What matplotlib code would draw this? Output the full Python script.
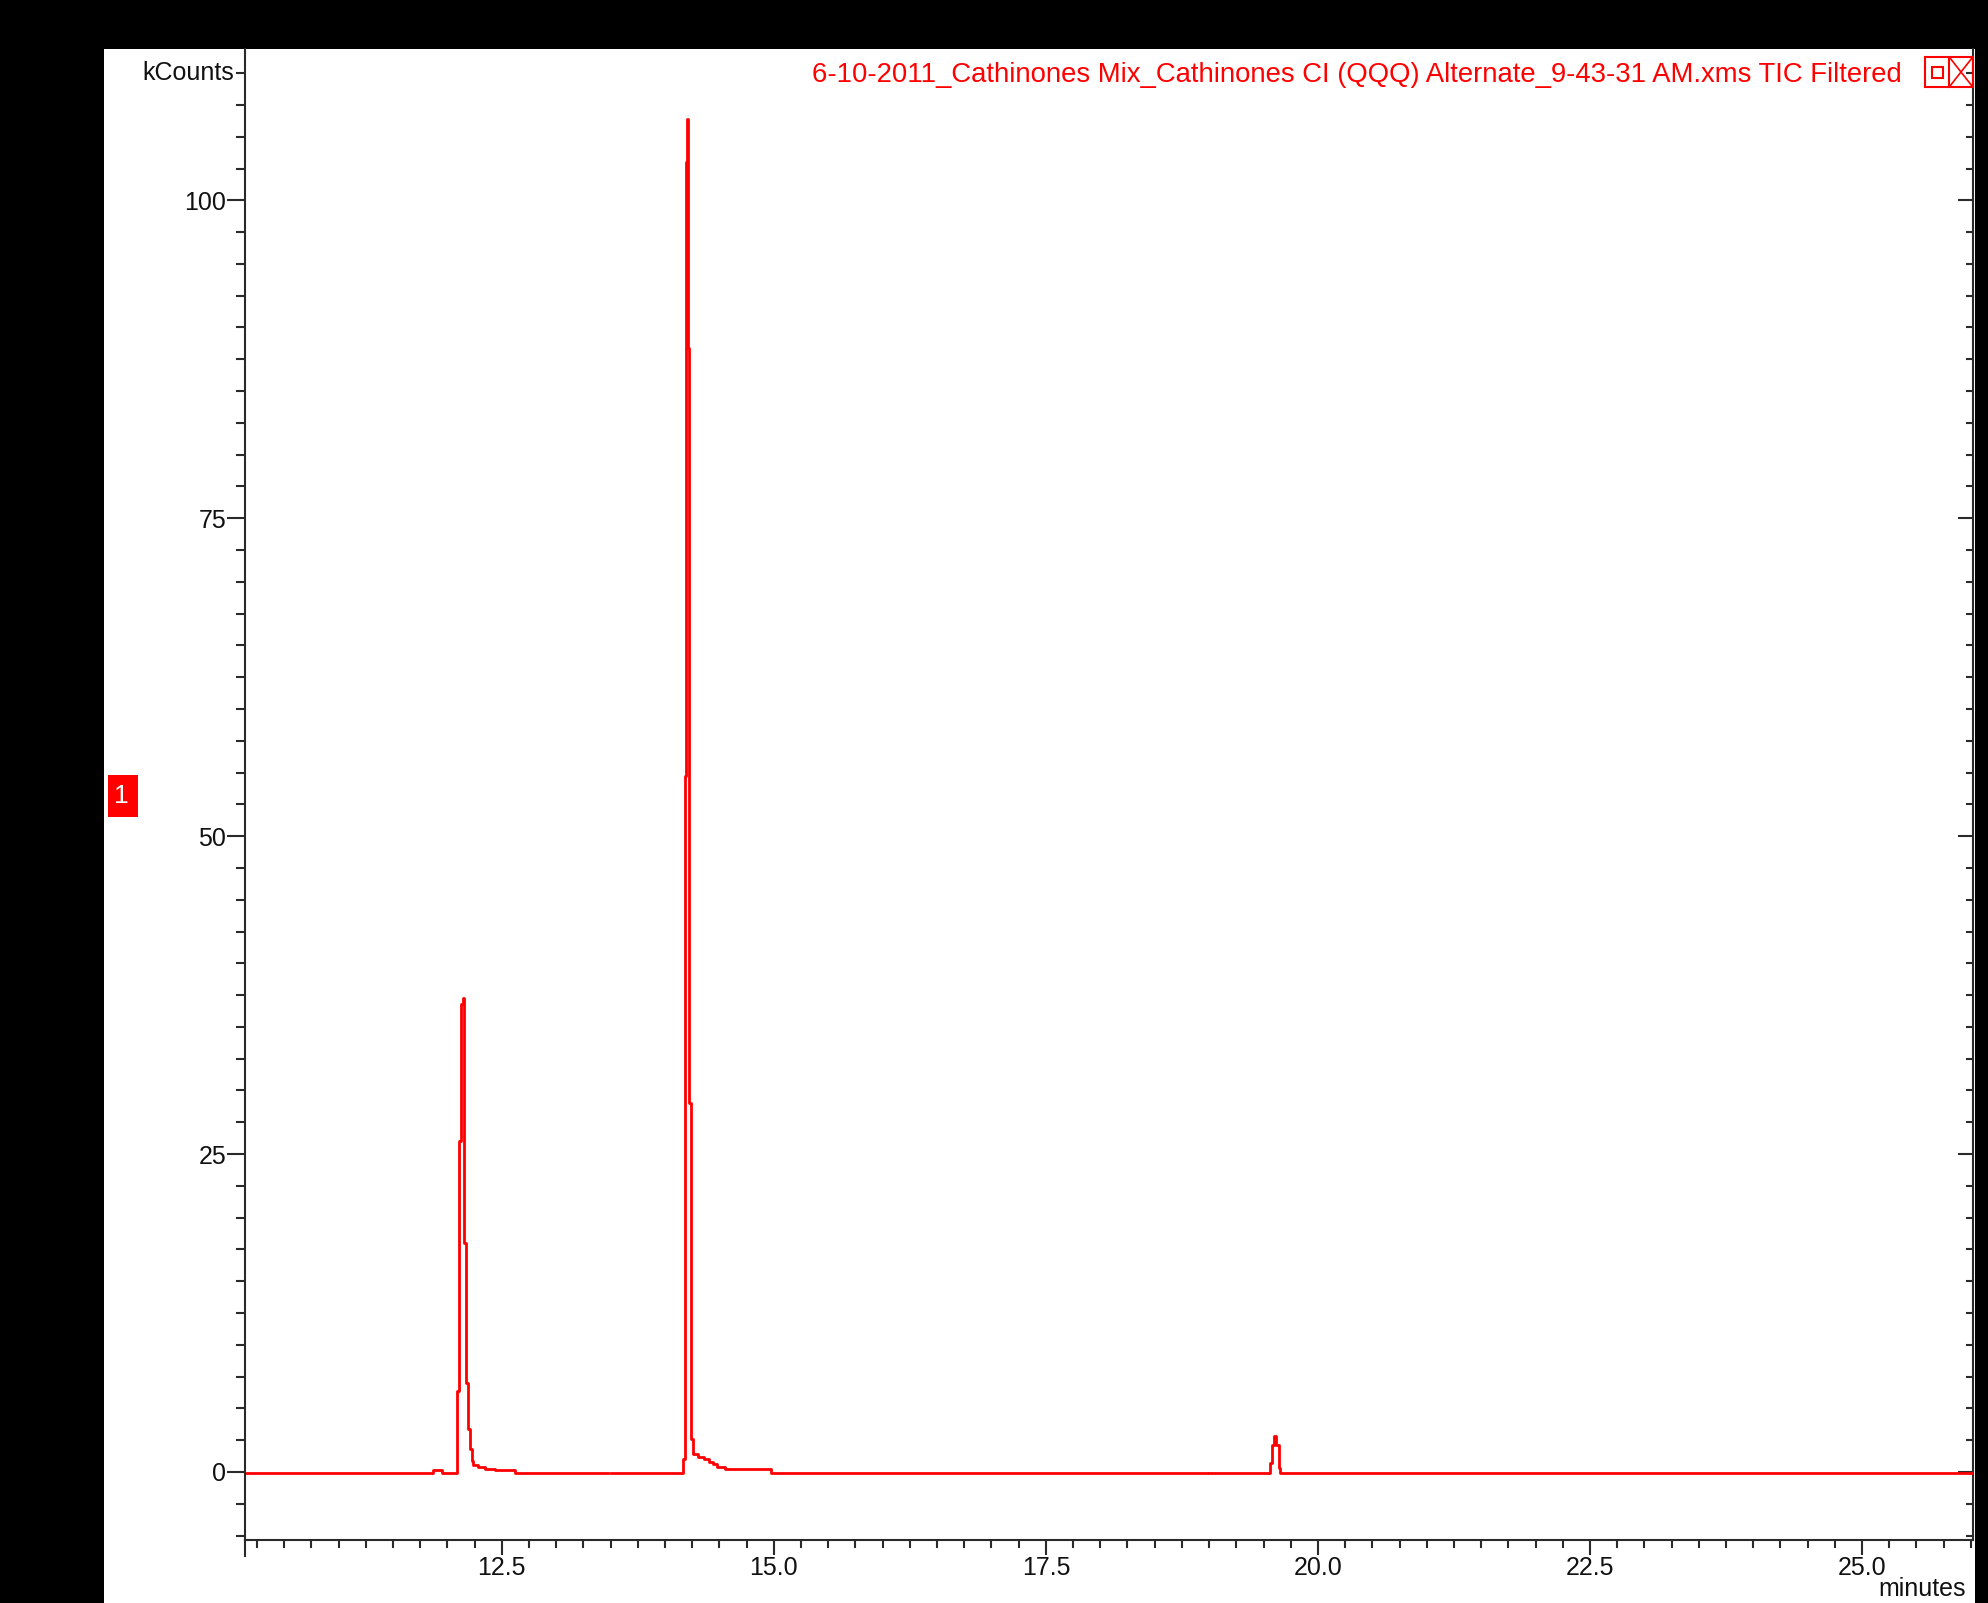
import numpy as np
import matplotlib.pyplot as plt
from matplotlib.patches import Rectangle
from matplotlib.lines import Line2D
from matplotlib.ticker import MultipleLocator, FormatStrFormatter

plt.rcParams['font.family'] = ['Liberation Sans', 'DejaVu Sans']

# TIC trace, retention time (minutes) and signal (kCounts); NaN marks a break in acquisition
rt_min = [10.14, 11.87, 11.95,
          12.088, 12.103, 12.123, 12.142, 12.150, 12.169, 12.188, 12.209, 12.224,
          12.239, 12.285, 12.347, 12.439, 12.62,
          13.48, 13.50,
          14.165, 14.18, 14.19, 14.20, 14.21, 14.22, 14.235, 14.26, 14.30, 14.36,
          14.40, 14.44, 14.48, 14.55, 14.97,
          18.98, 19.00,
          19.56, 19.577, 19.595, 19.613, 19.638, 19.655,
          26.02]
kcounts = [-0.1, 0.15, -0.1,
           6.4, 26.0, 36.8, 37.3, 18.0, 7.0, 3.4, 1.8, 0.9,
           0.55, 0.4, 0.25, 0.15, -0.1,
           np.nan, -0.1,
           1.0, 54.7, 103.0, 106.4, 88.4, 29.0, 2.6, 1.4, 1.2, 1.0,
           0.8, 0.6, 0.4, 0.25, -0.1,
           np.nan, -0.1,
           0.7, 2.1, 2.8, 2.1, 0.3, -0.1,
           -0.1]

title = "6-10-2011_Cathinones Mix_Cathinones CI (QQQ) Alternate_9-43-31 AM.xms TIC Filtered"
xlim = (10.14, 26.02)
ylim = (-5.35, 111.9)

W, H = 1988, 1603
def fx(px):
    return px / W
def fy(py):
    return 1 - py / H

axis_col = '#2a2a2a'
fs = 18

fig = plt.figure(figsize=(W / 100, H / 100), dpi=100, facecolor='black')
# white panel behind the plot
fig.patches.append(Rectangle((fx(104), 0), fx(1975) - fx(104), fy(49),
                             transform=fig.transFigure, facecolor='white',
                             edgecolor='none', zorder=-5))

ax = fig.add_axes([fx(245), fy(1540), fx(1973) - fx(245), fy(49) - fy(1540)])
ax.set_facecolor('white')
ax.plot(rt_min, kcounts, color='#ff0000', lw=2.0, drawstyle='steps-post')
ax.set_xlim(*xlim)
ax.set_ylim(*ylim)

for s in ['top', 'right']:
    ax.spines[s].set_visible(False)
for s in ['left', 'bottom']:
    ax.spines[s].set_color(axis_col)
    ax.spines[s].set_linewidth(1.5)

ax.xaxis.set_major_locator(MultipleLocator(2.5))
ax.xaxis.set_minor_locator(MultipleLocator(0.25))
ax.xaxis.set_major_formatter(FormatStrFormatter('%.1f'))
ax.yaxis.set_major_locator(MultipleLocator(25))
ax.yaxis.set_minor_locator(MultipleLocator(2.5))

ax.tick_params(axis='x', which='major', length=11, width=1.5, color=axis_col,
               labelsize=fs, pad=0.5, labelcolor='#111111')
ax.tick_params(axis='x', which='minor', length=5.8, width=1.5, color=axis_col)
ax.tick_params(axis='y', which='major', length=13, width=1.5, color=axis_col,
               labelsize=fs, pad=0.5, labelcolor='#111111')
ax.tick_params(axis='y', which='minor', length=6.5, width=1.5, color=axis_col)

# right-hand scale, ticks pointing inward
sec = ax.secondary_yaxis('right')
sec.yaxis.set_major_locator(MultipleLocator(25))
sec.yaxis.set_minor_locator(MultipleLocator(2.5))
sec.spines['right'].set_color(axis_col)
sec.spines['right'].set_linewidth(1.5)
sec.tick_params(axis='y', which='major', direction='in', length=11, width=1.5,
                color=axis_col, labelright=False)
sec.tick_params(axis='y', which='minor', direction='in', length=5, width=1.5,
                color=axis_col)

# unit label sits on the top tick of the y scale
ax.annotate('kCounts', xy=(0, 110), xycoords=ax.get_yaxis_transform(),
            xytext=(-11, 0), textcoords='offset pixels', ha='right', va='center',
            fontsize=fs, color='#111111', annotation_clip=False)
fig.text(fx(1966), fy(1589), 'minutes', ha='right', va='center', fontsize=fs,
         color='#111111')

# y axis line runs a little past the x axis
fig.add_artist(Line2D([fx(245), fx(245)], [fy(1540), fy(1556)], color=axis_col, lw=1.5))

# trace title and window buttons
fig.text(fx(1902), fy(75), title, color='#ff0000', ha='right', va='center', fontsize=19.8)
red = '#ff0000'
fig.add_artist(Rectangle((fx(1925), fy(87)), fx(1973) - fx(1925), fy(57) - fy(87),
                         transform=fig.transFigure, fill=False, edgecolor=red, lw=1.5))
fig.add_artist(Line2D([fx(1949), fx(1949)], [fy(57), fy(87)], color=red, lw=1.5))
fig.add_artist(Rectangle((fx(1932), fy(78)), fx(1943) - fx(1932), fy(67) - fy(78),
                         transform=fig.transFigure, fill=False, edgecolor=red, lw=1.5))
fig.add_artist(Line2D([fx(1950), fx(1972)], [fy(58), fy(86)], color=red, lw=1.2))
fig.add_artist(Line2D([fx(1950), fx(1972)], [fy(86), fy(58)], color=red, lw=1.2))

# trace index marker
fig.add_artist(Rectangle((fx(108), fy(817)), fx(138) - fx(108), fy(775) - fy(817),
                         transform=fig.transFigure, facecolor=red, edgecolor='none'))
fig.text(fx(121), fy(796), '1', color='white', ha='center', va='center', fontsize=19)

fig.savefig('out.png', dpi=100, facecolor='black')
